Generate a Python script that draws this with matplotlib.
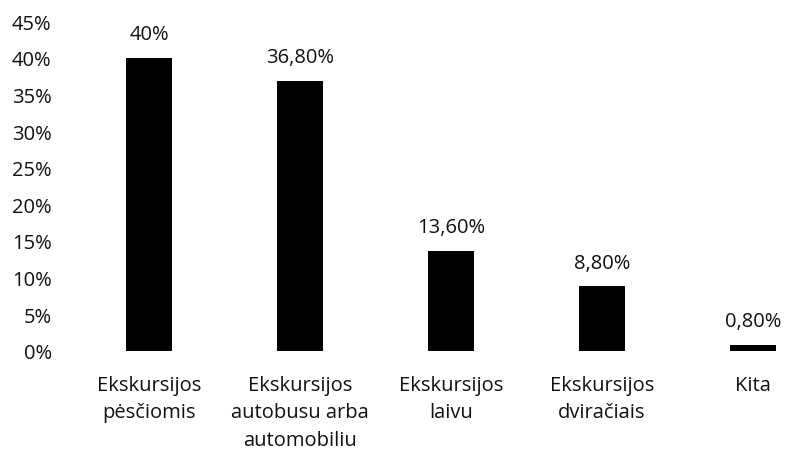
import matplotlib
matplotlib.use("Agg")
import matplotlib.pyplot as plt

categories = ["Ekskursijos\npėsčiomis", "Ekskursijos\nautobusu arba\nautomobiliu",
              "Ekskursijos\nlaivu", "Ekskursijos\ndviračiais", "Kita"]
values = [40.0, 36.8, 13.6, 8.8, 0.8]
value_labels = ["40%", "36,80%", "13,60%", "8,80%", "0,80%"]
yticks = [0, 5, 10, 15, 20, 25, 30, 35, 40, 45]
ytick_labels = [f"{t}%" for t in yticks]

plt.rcParams['font.family'] = ['Open Sans', 'DejaVu Sans']

W, H = 785, 452
fig = plt.figure(figsize=(W / 100, H / 100), dpi=100)
ax_left, ax_right = 60, 785
ax_top, ax_bottom = 22, 352
ax = fig.add_axes([ax_left / W, (H - ax_bottom) / H, (ax_right - ax_left) / W, (ax_bottom - ax_top) / H])

x = list(range(len(categories)))
ax.bar(x, values, width=0.31, color="black")
slot = 151
ax.set_xlim((ax_left - 149) / slot, (ax_right - 149) / slot)
ax.set_ylim(0, 45)
fs = 14.5
ax.set_yticks(yticks)
ax.set_yticklabels(ytick_labels, fontsize=fs, color="#111111")
ax.set_xticks(x)
ax.set_xticklabels(categories, fontsize=fs, color="#111111", linespacing=1.5)
ax.tick_params(axis="both", length=0)
ax.tick_params(axis="y", pad=6)
ax.tick_params(axis="x", pad=17)
for s in ax.spines.values():
    s.set_visible(False)

for xi, v, lab in zip(x, values, value_labels):
    ax.annotate(lab, (xi, v), xytext=(0, 10), textcoords="offset points",
                ha="center", va="bottom", fontsize=fs, color="#111111")

fig.savefig("out.png", dpi=100)
